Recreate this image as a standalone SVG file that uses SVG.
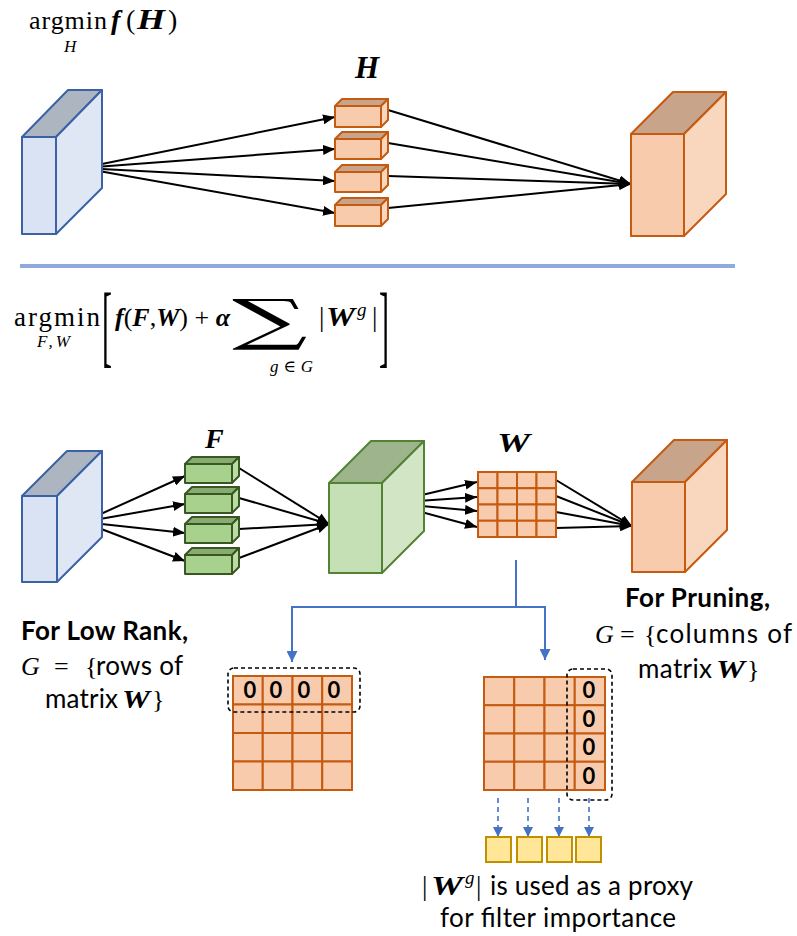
<svg xmlns="http://www.w3.org/2000/svg" width="797" height="936" viewBox="0 0 797 936">
  <defs>
    <marker id="ah" markerUnits="userSpaceOnUse" markerWidth="12" markerHeight="10" refX="12" refY="5" orient="auto">
      <path d="M0,0 L12,5 L0,10 z" fill="#000"/>
    </marker>
    <marker id="ahb" markerUnits="userSpaceOnUse" markerWidth="12" markerHeight="11" refX="11" refY="5.5" orient="auto">
      <path d="M0,0 L11,5.5 L0,11 z" fill="#4472C4"/>
    </marker>
    <marker id="ahbs" markerUnits="userSpaceOnUse" markerWidth="10" markerHeight="10" refX="10" refY="5" orient="auto">
      <path d="M0,0 L10,5 L0,10 z" fill="#4472C4"/>
    </marker>
  </defs>
  <style>
    .blue { stroke: #3B62A6; stroke-width: 2; stroke-linejoin: round; }
    .blue .f { fill: #DAE3F3; } .blue .t { fill: #ADB5C1; } .blue .r { fill: #DFE6F4; }
    .org { stroke: #C55A11; stroke-width: 2; stroke-linejoin: round; }
    .org .f { fill: #F8CBAD; } .org .t { fill: #C8A48B; } .org .r { fill: #F9D6BE; }
    .grn { stroke: #548235; stroke-width: 2; stroke-linejoin: round; }
    .grn .f { fill: #C5E0B4; } .grn .t { fill: #9DB48D; } .grn .r { fill: #D2E6C6; }
    .sg { stroke: #385723; stroke-width: 2; stroke-linejoin: round; }
    .sg .f { fill: #A9D18E; } .sg .t { fill: #88AC70; } .sg .r { fill: #BBDDA5; }
    .arr { stroke: #000; stroke-width: 2; fill: none; }
    .cell { fill: #F8CBAD; stroke: #C55A11; stroke-width: 2; }
    .conn { stroke: #4472C4; stroke-width: 2; fill: none; }
    .dconn { stroke: #4472C4; stroke-width: 1.6; fill: none; stroke-dasharray: 5 4; }
    .dash { fill: none; stroke: #000; stroke-width: 1.6; stroke-dasharray: 4 3; }
    .yel { fill: #FFE699; stroke: #BF9000; stroke-width: 2; }
    .math { font-family: "Liberation Serif", "DejaVu Serif", serif; fill: #000; }
    .bi { font-weight: bold; font-style: italic; }
    .it { font-style: italic; }
    .txt { font-family: Lato, "Open Sans", "Liberation Sans", sans-serif; fill: #000; font-size: 26px; }
    .zero { font-family: Lato, "Open Sans", "Liberation Sans", sans-serif; font-weight: bold; font-size: 22px; text-anchor: middle; fill: #000; }
  </style>

  <!-- top objective -->
  <g id="obj-top" class="math">
    <text x="29" y="29" font-size="26" textLength="78">argmin</text>
    <text class="bi" x="111" y="29" font-size="28">f</text>
    <text x="126" y="29" font-size="28">(</text>
    <text class="bi" x="137" y="29" font-size="29" textLength="28" lengthAdjust="spacingAndGlyphs">H</text>
    <text x="168" y="29" font-size="28">)</text>
    <text class="it" x="64" y="52" font-size="17">H</text>
  </g>
  <text id="label-H" class="math bi" x="355" y="78" font-size="31">H</text>

  <!-- top row: connectors -->
  <g id="connectors-top">
    <line class="arr" x1="82" y1="168" x2="335" y2="117" marker-end="url(#ah)"/>
    <line class="arr" x1="82" y1="168" x2="335" y2="149" marker-end="url(#ah)"/>
    <line class="arr" x1="82" y1="168" x2="335" y2="181" marker-end="url(#ah)"/>
    <line class="arr" x1="82" y1="168" x2="335" y2="213" marker-end="url(#ah)"/>
    <line class="arr" x1="388" y1="110" x2="631" y2="184" marker-end="url(#ah)"/>
    <line class="arr" x1="388" y1="143" x2="631" y2="184" marker-end="url(#ah)"/>
    <line class="arr" x1="388" y1="176" x2="631" y2="184" marker-end="url(#ah)"/>
    <line class="arr" x1="388" y1="208" x2="631" y2="184" marker-end="url(#ah)"/>
  </g>

  <!-- input feature map (top) -->
  <g id="input-top" class="blue">
    <polygon class="t" points="22,137 68,90 102,90 56,137"/>
    <polygon class="r" points="56,137 102,90 102,188 56,234"/>
    <rect class="f" x="22" y="137" width="34" height="97"/>
  </g>

  <!-- filter bank H -->
  <g id="filters-H" class="org">
    <g id="h1">
      <polygon class="t" points="335,106 342,99 388,99 381,106"/>
      <polygon class="r" points="381,106 388,99 388,120 381,127"/>
      <rect class="f" x="335" y="106" width="46" height="21"/>
    </g>
    <g id="h2">
      <polygon class="t" points="335,139 342,132 388,132 381,139"/>
      <polygon class="r" points="381,139 388,132 388,152 381,159"/>
      <rect class="f" x="335" y="139" width="46" height="20"/>
    </g>
    <g id="h3">
      <polygon class="t" points="335,172 342,165 388,165 381,172"/>
      <polygon class="r" points="381,172 388,165 388,185 381,192"/>
      <rect class="f" x="335" y="172" width="46" height="20"/>
    </g>
    <g id="h4">
      <polygon class="t" points="335,205 342,198 388,198 381,205"/>
      <polygon class="r" points="381,205 388,198 388,219 381,226"/>
      <rect class="f" x="335" y="205" width="46" height="21"/>
    </g>
  </g>

  <!-- output feature map (top) -->
  <g id="output-top" class="org">
    <polygon class="t" points="631,134 673,92 726,92 684,134"/>
    <polygon class="r" points="684,134 726,92 726,194 684,236"/>
    <rect class="f" x="631" y="134" width="53" height="102"/>
  </g>

  <!-- separator -->
  <line id="separator" x1="20" y1="266" x2="735" y2="266" stroke="#8FAADC" stroke-width="4"/>

  <!-- regularised objective -->
  <g id="obj-bottom" class="math">
    <text x="14" y="326" font-size="27" textLength="86">argmin</text>
    <text class="it" x="37" y="347" font-size="17" textLength="33">F,W</text>
    <text x="0" y="0" font-size="30" transform="matrix(1 0 0 3 102 356)">[</text>
    <text x="115" y="326" font-size="26"><tspan class="bi">f</tspan>(<tspan class="bi">F</tspan>,<tspan class="bi">W</tspan>) + <tspan class="bi">α</tspan></text>
    <text x="0" y="0" font-size="46" font-family="DejaVu Serif, serif" transform="matrix(2.3 0 0 1.2 232 339)">∑</text>
    <text class="it" x="270" y="372" font-size="17" textLength="43">g∈G</text>
    <text x="319" y="326" font-size="27">|</text>
    <text class="bi" x="326" y="326" font-size="27" textLength="29" lengthAdjust="spacingAndGlyphs">W</text>
    <text class="it" x="357" y="316" font-size="19">g</text>
    <text x="372" y="326" font-size="27">|</text>
    <text x="0" y="0" font-size="30" transform="matrix(1 0 0 3 379 356)">]</text>
  </g>

  <text id="label-F" class="math bi" x="205" y="448" font-size="28">F</text>
  <text id="label-W" class="math bi" x="497" y="452" font-size="28" textLength="33" lengthAdjust="spacingAndGlyphs">W</text>

  <!-- bottom row: connectors -->
  <g id="connectors-bottom">
    <line class="arr" x1="83" y1="522" x2="185" y2="476" marker-end="url(#ah)"/>
    <line class="arr" x1="83" y1="522" x2="185" y2="504" marker-end="url(#ah)"/>
    <line class="arr" x1="83" y1="522" x2="185" y2="533" marker-end="url(#ah)"/>
    <line class="arr" x1="83" y1="522" x2="185" y2="561" marker-end="url(#ah)"/>
    <line class="arr" x1="239" y1="468" x2="329" y2="524" marker-end="url(#ah)"/>
    <line class="arr" x1="239" y1="498" x2="329" y2="524" marker-end="url(#ah)"/>
    <line class="arr" x1="239" y1="529" x2="329" y2="524" marker-end="url(#ah)"/>
    <line class="arr" x1="239" y1="558" x2="329" y2="524" marker-end="url(#ah)"/>
    <line class="arr" x1="388" y1="503" x2="477" y2="482" marker-end="url(#ah)"/>
    <line class="arr" x1="388" y1="503" x2="477" y2="497" marker-end="url(#ah)"/>
    <line class="arr" x1="388" y1="503" x2="477" y2="511" marker-end="url(#ah)"/>
    <line class="arr" x1="388" y1="503" x2="477" y2="527" marker-end="url(#ah)"/>
    <line class="arr" x1="556" y1="480" x2="632" y2="526" marker-end="url(#ah)"/>
    <line class="arr" x1="556" y1="496" x2="632" y2="526" marker-end="url(#ah)"/>
    <line class="arr" x1="556" y1="512" x2="632" y2="526" marker-end="url(#ah)"/>
    <line class="arr" x1="556" y1="528" x2="632" y2="526" marker-end="url(#ah)"/>
    <!-- split to the two grouping examples -->
    <polyline class="conn" points="516,560 516,607"/>
    <polyline class="conn" points="292,607 292,662" marker-end="url(#ahb)"/>
    <polyline class="conn" points="291,607 545,607 545,660" marker-end="url(#ahb)"/>
    <!-- column norms -->
    <line class="dconn" x1="498" y1="798" x2="498" y2="837" marker-end="url(#ahbs)"/>
    <line class="dconn" x1="528" y1="798" x2="528" y2="837" marker-end="url(#ahbs)"/>
    <line class="dconn" x1="559" y1="798" x2="559" y2="837" marker-end="url(#ahbs)"/>
    <line class="dconn" x1="589" y1="798" x2="589" y2="837" marker-end="url(#ahbs)"/>
  </g>

  <!-- input feature map (bottom) -->
  <g id="input-bottom" class="blue">
    <polygon class="t" points="22,496 67,451 102,451 57,496"/>
    <polygon class="r" points="57,496 102,451 102,537 57,582"/>
    <rect class="f" x="22" y="496" width="35" height="86"/>
  </g>

  <!-- low-rank filters F -->
  <g id="filters-F" class="sg">
    <g id="f1">
      <polygon class="t" points="185,464 192,457 239,457 232,464"/>
      <polygon class="r" points="232,464 239,457 239,476 232,483"/>
      <rect class="f" x="185" y="464" width="47" height="19"/>
    </g>
    <g id="f2">
      <polygon class="t" points="185,494 192,487 239,487 232,494"/>
      <polygon class="r" points="232,494 239,487 239,506 232,513"/>
      <rect class="f" x="185" y="494" width="47" height="19"/>
    </g>
    <g id="f3">
      <polygon class="t" points="185,524 192,517 239,517 232,524"/>
      <polygon class="r" points="232,524 239,517 239,536 232,543"/>
      <rect class="f" x="185" y="524" width="47" height="19"/>
    </g>
    <g id="f4">
      <polygon class="t" points="185,555 192,548 239,548 232,555"/>
      <polygon class="r" points="232,555 239,548 239,567 232,574"/>
      <rect class="f" x="185" y="555" width="47" height="19"/>
    </g>
  </g>

  <!-- intermediate feature map -->
  <g id="mid-map" class="grn">
    <polygon class="t" points="329,483 371,441 424,441 382,483"/>
    <polygon class="r" points="382,483 424,441 424,531 382,573"/>
    <rect class="f" x="329" y="483" width="53" height="90"/>
  </g>

  <!-- weight matrix W -->
  <g id="matrix-W">
    <rect class="cell" x="478" y="472" width="19.5" height="16.25"/>
    <rect class="cell" x="497.5" y="472" width="19.5" height="16.25"/>
    <rect class="cell" x="517" y="472" width="19.5" height="16.25"/>
    <rect class="cell" x="536.5" y="472" width="19.5" height="16.25"/>
    <rect class="cell" x="478" y="488.25" width="19.5" height="16.25"/>
    <rect class="cell" x="497.5" y="488.25" width="19.5" height="16.25"/>
    <rect class="cell" x="517" y="488.25" width="19.5" height="16.25"/>
    <rect class="cell" x="536.5" y="488.25" width="19.5" height="16.25"/>
    <rect class="cell" x="478" y="504.5" width="19.5" height="16.25"/>
    <rect class="cell" x="497.5" y="504.5" width="19.5" height="16.25"/>
    <rect class="cell" x="517" y="504.5" width="19.5" height="16.25"/>
    <rect class="cell" x="536.5" y="504.5" width="19.5" height="16.25"/>
    <rect class="cell" x="478" y="520.75" width="19.5" height="16.25"/>
    <rect class="cell" x="497.5" y="520.75" width="19.5" height="16.25"/>
    <rect class="cell" x="517" y="520.75" width="19.5" height="16.25"/>
    <rect class="cell" x="536.5" y="520.75" width="19.5" height="16.25"/>
  </g>

  <!-- output feature map (bottom) -->
  <g id="output-bottom" class="org">
    <polygon class="t" points="632,482 674,440 727,440 685,482"/>
    <polygon class="r" points="685,482 727,440 727,530 685,572"/>
    <rect class="f" x="632" y="482" width="53" height="90"/>
  </g>

  <!-- low-rank grouping -->
  <g id="lowrank-text">
    <text class="txt" x="21" y="640" font-size="25" font-weight="bold" textLength="167">For Low Rank,</text>
    <text class="math it" x="21" y="675" font-size="26">G</text>
    <text class="math" x="54" y="675" font-size="26">=</text>
    <text class="math" x="85" y="675" font-size="26">{</text>
    <text class="txt" x="96" y="675" textLength="87">rows of</text>
    <text class="txt" x="45" y="708" textLength="73">matrix</text>
    <text class="math bi" x="122" y="708" font-size="26" textLength="28" lengthAdjust="spacingAndGlyphs">W</text>
    <text class="math" x="152" y="708" font-size="26">}</text>
  </g>
  <g id="matrix-lowrank">
    <rect class="cell" x="233" y="676" width="29.75" height="28.5"/>
    <rect class="cell" x="262.75" y="676" width="29.75" height="28.5"/>
    <rect class="cell" x="292.5" y="676" width="29.75" height="28.5"/>
    <rect class="cell" x="322.25" y="676" width="29.75" height="28.5"/>
    <rect class="cell" x="233" y="704.5" width="29.75" height="28.5"/>
    <rect class="cell" x="262.75" y="704.5" width="29.75" height="28.5"/>
    <rect class="cell" x="292.5" y="704.5" width="29.75" height="28.5"/>
    <rect class="cell" x="322.25" y="704.5" width="29.75" height="28.5"/>
    <rect class="cell" x="233" y="733" width="29.75" height="28.5"/>
    <rect class="cell" x="262.75" y="733" width="29.75" height="28.5"/>
    <rect class="cell" x="292.5" y="733" width="29.75" height="28.5"/>
    <rect class="cell" x="322.25" y="733" width="29.75" height="28.5"/>
    <rect class="cell" x="233" y="761.5" width="29.75" height="28.5"/>
    <rect class="cell" x="262.75" y="761.5" width="29.75" height="28.5"/>
    <rect class="cell" x="292.5" y="761.5" width="29.75" height="28.5"/>
    <rect class="cell" x="322.25" y="761.5" width="29.75" height="28.5"/>
    <text class="zero" x="250" y="698">0</text>
    <text class="zero" x="276" y="698">0</text>
    <text class="zero" x="304" y="698">0</text>
    <text class="zero" x="334" y="698">0</text>
    <rect class="dash" x="228" y="668" width="132" height="44" rx="6"/>
  </g>

  <!-- pruning grouping -->
  <g id="pruning-text">
    <text class="txt" x="625" y="607" font-size="25" font-weight="bold" textLength="145">For Pruning,</text>
    <text class="math it" x="595" y="643" font-size="26">G</text>
    <text class="math" x="620" y="643" font-size="26">=</text>
    <text class="math" x="644" y="643" font-size="26">{</text>
    <text class="txt" x="656" y="643" textLength="136">columns of</text>
    <text class="txt" x="638" y="678" textLength="74">matrix</text>
    <text class="math bi" x="716" y="678" font-size="26" textLength="29" lengthAdjust="spacingAndGlyphs">W</text>
    <text class="math" x="747" y="678" font-size="26">}</text>
  </g>
  <g id="matrix-pruning">
    <rect class="cell" x="484" y="677" width="30.25" height="28.25"/>
    <rect class="cell" x="514.25" y="677" width="30.25" height="28.25"/>
    <rect class="cell" x="544.5" y="677" width="30.25" height="28.25"/>
    <rect class="cell" x="574.75" y="677" width="30.25" height="28.25"/>
    <rect class="cell" x="484" y="705.25" width="30.25" height="28.25"/>
    <rect class="cell" x="514.25" y="705.25" width="30.25" height="28.25"/>
    <rect class="cell" x="544.5" y="705.25" width="30.25" height="28.25"/>
    <rect class="cell" x="574.75" y="705.25" width="30.25" height="28.25"/>
    <rect class="cell" x="484" y="733.5" width="30.25" height="28.25"/>
    <rect class="cell" x="514.25" y="733.5" width="30.25" height="28.25"/>
    <rect class="cell" x="544.5" y="733.5" width="30.25" height="28.25"/>
    <rect class="cell" x="574.75" y="733.5" width="30.25" height="28.25"/>
    <rect class="cell" x="484" y="761.75" width="30.25" height="28.25"/>
    <rect class="cell" x="514.25" y="761.75" width="30.25" height="28.25"/>
    <rect class="cell" x="544.5" y="761.75" width="30.25" height="28.25"/>
    <rect class="cell" x="574.75" y="761.75" width="30.25" height="28.25"/>
    <text class="zero" x="589" y="698">0</text>
    <text class="zero" x="589" y="727">0</text>
    <text class="zero" x="589" y="755">0</text>
    <text class="zero" x="589" y="784">0</text>
    <rect class="dash" x="567" y="669" width="45" height="131" rx="6"/>
  </g>

  <!-- column norms -->
  <g id="norms">
    <rect class="yel" x="486" y="837" width="25" height="25"/>
    <rect class="yel" x="517" y="837" width="25" height="25"/>
    <rect class="yel" x="547" y="837" width="25" height="25"/>
    <rect class="yel" x="576" y="837" width="25" height="25"/>
  </g>
  <g id="norm-caption">
    <text class="math" x="422" y="895" font-size="27">|</text>
    <text class="math bi" x="431" y="895" font-size="27" textLength="32" lengthAdjust="spacingAndGlyphs">W</text>
    <text class="math it" x="465" y="884" font-size="19">g</text>
    <text class="math" x="476" y="895" font-size="27">|</text>
    <text class="txt" x="490" y="895" textLength="203">is used as a proxy</text>
    <text class="txt" x="440" y="927" textLength="236">for filter importance</text>
  </g>
</svg>
